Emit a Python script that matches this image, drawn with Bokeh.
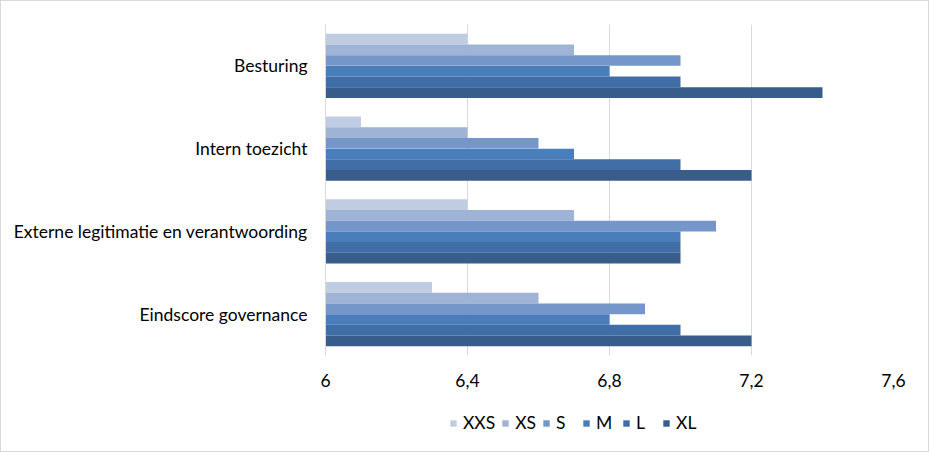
from bokeh.plotting import figure
from bokeh.layouts import column
from bokeh.models import ColumnDataSource, FactorRange, FixedTicker, Legend, LegendItem, Range1d
from bokeh.transform import dodge
from bokeh.embed import file_html
from bokeh.resources import INLINE

categories = ["Besturing", "Intern toezicht", "Externe legitimatie en verantwoording", "Eindscore governance"]
series = ["XXS", "XS", "S", "M", "L", "XL"]
values_XXS = [6.4, 6.1, 6.4, 6.3]
values_XS = [6.7, 6.4, 6.7, 6.6]
values_S = [7.0, 6.6, 7.1, 6.9]
values_M = [6.8, 6.7, 7.0, 6.8]
values_L = [7.0, 7.0, 7.0, 7.0]
values_XL = [7.4, 7.2, 7.0, 7.2]
tick_values = [6.0, 6.4, 6.8, 7.2, 7.6]
tick_labels = ["6", "6,4", "6,8", "7,2", "7,6"]

colors = ["#C0CCE2", "#9FB3D6", "#7596C8", "#4A7EBB", "#416EA6", "#385D8A"]
FONT = "Lato"
FS = "17.5px"

data = dict(cat=categories, XXS=values_XXS, XS=values_XS, S=values_S, M=values_M, L=values_L, XL=values_XL)
source = ColumnDataSource(data)

p = figure(frame_width=568, frame_height=331, output_backend="svg", toolbar_location=None,
           y_range=FactorRange(factors=categories[::-1], range_padding=0),
           x_range=Range1d(6.0, 7.6))
p.min_border_left = 324
p.min_border_right = 35
p.min_border_top = 23
p.min_border_bottom = 45
p.outline_line_color = None

bh = 0.129
for i, s in enumerate(series):
    off = (2.5 - i) * bh
    p.hbar(y=dodge("cat", off, range=p.y_range), left=6.0, right=s, height=bh,
           source=source, fill_color=colors[i], line_color=None)

p.xaxis.ticker = FixedTicker(ticks=tick_values)
p.xaxis.major_label_overrides = {v: l for v, l in zip(tick_values, tick_labels)}
p.xaxis.axis_line_color = None
p.xaxis.major_tick_line_color = None
p.xaxis.minor_tick_line_color = None
p.xaxis.major_label_standoff = 12
p.xaxis.major_label_text_font = FONT
p.xaxis.major_label_text_font_size = FS
p.xaxis.major_label_text_color = "#000000"

p.yaxis.axis_line_color = "#D9D9D9"
p.yaxis.major_tick_line_color = None
p.yaxis.minor_tick_line_color = None
p.yaxis.major_label_standoff = 12
p.yaxis.major_label_text_font = FONT
p.yaxis.major_label_text_font_size = FS
p.yaxis.major_label_text_color = "#000000"

p.xgrid.grid_line_color = "#D9D9D9"
p.xgrid.ticker = FixedTicker(ticks=tick_values[1:])
p.ygrid.grid_line_color = None

# legend strip below the chart (its bars have zero height and lie outside its view)
lp = figure(width=927, height=51, output_backend="svg", toolbar_location=None,
            x_axis_location=None, y_axis_location=None,
            x_range=Range1d(100, 101), y_range=FactorRange(factors=categories[::-1]))
lp.min_border = 0
lp.outline_line_color = None
lp.xgrid.grid_line_color = None
lp.ygrid.grid_line_color = None
items = []
for i, s in enumerate(series):
    r = lp.hbar(y="cat", left=6.0, right=s, height=0, source=source,
                fill_color=colors[i], line_color=None)
    items.append(LegendItem(label=s, renderers=[r]))

legend = Legend(items=items, orientation="horizontal", location=(124, 18))
legend.glyph_width = 8
legend.glyph_height = 8
legend.label_standoff = 6
legend.spacing = 6
legend.label_text_font = FONT
legend.label_text_font_size = FS
legend.label_text_color = "#000000"
legend.border_line_color = None
legend.background_fill_alpha = 0
legend.margin = 0
legend.padding = 0
lp.add_layout(legend, "center")

layout = column(p, lp, spacing=0, styles={"border": "1px solid #D9D9D9"})

open("out.html", "w").write(file_html(layout, INLINE))
